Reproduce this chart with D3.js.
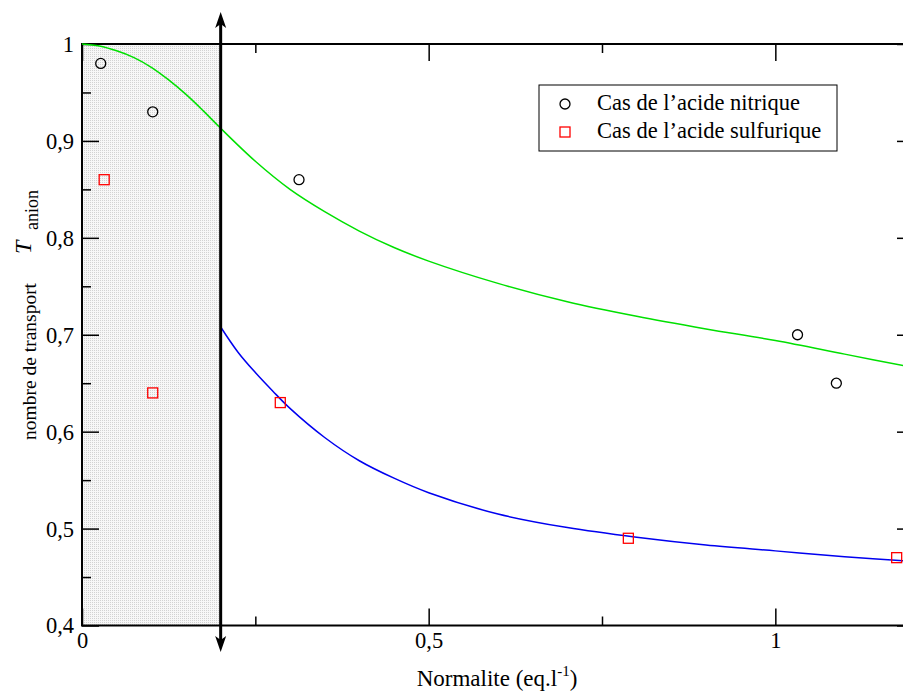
<!DOCTYPE html>
<html>
<head>
<meta charset="utf-8">
<script src="https://cdn.jsdelivr.net/npm/d3@7/dist/d3.min.js"></script>
<style>
  html, body { margin: 0; padding: 0; background: #fff; }
  svg { display: block; }
  svg text { font-family: "Liberation Serif", "Times New Roman", serif; fill: #000; }
</style>
</head>
<body>
<svg id="chart" width="903" height="691"></svg>
<script>
// ---- data ----
const nitricX = [0.027, 0.102, 0.313, 1.032, 1.088];
const nitricY = [0.98, 0.93, 0.86, 0.70, 0.65];
const sulfX = [0.032, 0.102, 0.286, 0.788, 1.175];
const sulfY = [0.86, 0.64, 0.63, 0.49, 0.47];

const greenX = [0, 0.025, 0.05, 0.075, 0.1, 0.125, 0.15, 0.175, 0.2, 0.25, 0.3, 0.35, 0.4, 0.45, 0.5, 0.6, 0.7, 0.8, 0.9, 1.0, 1.1, 1.2];
const greenY = [1.0, 0.998, 0.993, 0.986, 0.976, 0.963, 0.948, 0.931, 0.913, 0.879, 0.850, 0.827, 0.807, 0.790, 0.776, 0.753, 0.734, 0.719, 0.706, 0.694, 0.680, 0.666];
const blueX = [0.2, 0.225, 0.25, 0.275, 0.3, 0.35, 0.4, 0.45, 0.5, 0.6, 0.7, 0.8, 0.9, 1.0, 1.1, 1.2];
const blueY = [0.708, 0.682, 0.661, 0.642, 0.624, 0.594, 0.570, 0.552, 0.537, 0.515, 0.501, 0.491, 0.483, 0.477, 0.471, 0.466];

const shadeLimit = 0.2;

const xMajor = [0, 0.5, 1];
const xMajorLabels = ["0", "0,5", "1"];
const xMinor = [0.25, 0.75];
const yMajor = [0.4, 0.5, 0.6, 0.7, 0.8, 0.9, 1];
const yMajorLabels = ["0,4", "0,5", "0,6", "0,7", "0,8", "0,9", "1"];
const yMinor = [0.45, 0.55, 0.65, 0.75, 0.85, 0.95];

const legendLabels = ["Cas de l\u2019acide nitrique", "Cas de l\u2019acide sulfurique"];

// ---- layout ----
const svg = d3.select("#chart");
const L = 82, T = 44, R = 914, B = 625.5;
const x = d3.scaleLinear().domain([0, 1.2]).range([L, R]);
const y = d3.scaleLinear().domain([0.4, 1]).range([B, T]);

// pattern for shaded region
const defs = svg.append("defs");
const pat = defs.append("pattern").attr("id", "dots").attr("width", 2).attr("height", 2)
  .attr("patternUnits", "userSpaceOnUse");
pat.append("rect").attr("width", 2).attr("height", 2).attr("fill", "#f7f7f7");
pat.append("rect").attr("width", 1).attr("height", 1).attr("fill", "#d2d2d2");

svg.append("rect")
  .attr("x", x(0)).attr("y", y(1))
  .attr("width", x(shadeLimit) - x(0)).attr("height", y(0.4) - y(1))
  .attr("fill", "url(#dots)");

// axes (ticks inward)
const fmtX = d => xMajorLabels[xMajor.indexOf(d)];
const fmtY = d => yMajorLabels[yMajor.indexOf(d)];

function styleAxis(g) {
  g.attr("font-family", null).attr("font-size", null);
  g.select(".domain").remove();
  g.selectAll(".tick line").attr("stroke", "#000").attr("stroke-width", 1.5);
  g.selectAll("text").style("font-family", "'Liberation Serif', serif").style("font-size", "22.5px").attr("fill", "#000");
}

svg.append("g").attr("transform", `translate(${L},0)`)
  .call(d3.axisLeft(y).tickValues(yMajor).tickSize(-17).tickPadding(8).tickFormat(fmtY))
  .call(styleAxis)
  .call(g => g.selectAll("text").attr("dy", "0.33em"));
svg.append("g").attr("transform", `translate(${L},0)`)
  .call(d3.axisLeft(y).tickValues(yMinor).tickSize(-9).tickFormat(""))
  .call(styleAxis);
svg.append("g").attr("transform", `translate(${R},0)`)
  .call(d3.axisRight(y).tickValues(yMajor).tickSize(-17).tickFormat(""))
  .call(styleAxis);
svg.append("g").attr("transform", `translate(${R},0)`)
  .call(d3.axisRight(y).tickValues(yMinor).tickSize(-9).tickFormat(""))
  .call(styleAxis);

svg.append("g").attr("transform", `translate(0,${B})`)
  .call(d3.axisBottom(x).tickValues(xMajor).tickSize(-17).tickPadding(7).tickFormat(fmtX))
  .call(styleAxis)
  .call(g => g.selectAll("text").attr("dy", "0.71em"));
svg.append("g").attr("transform", `translate(0,${B})`)
  .call(d3.axisBottom(x).tickValues(xMinor).tickSize(-9).tickFormat(""))
  .call(styleAxis);
svg.append("g").attr("transform", `translate(0,${T})`)
  .call(d3.axisTop(x).tickValues(xMajor).tickSize(-17).tickFormat(""))
  .call(styleAxis);
svg.append("g").attr("transform", `translate(0,${T})`)
  .call(d3.axisTop(x).tickValues(xMinor).tickSize(-9).tickFormat(""))
  .call(styleAxis);

// frame
svg.append("rect").attr("x", L).attr("y", T).attr("width", R - L).attr("height", B - T)
  .attr("fill", "none").attr("stroke", "#000").attr("stroke-width", 2);

// curves
const line = d3.line().x(d => x(d[0])).y(d => y(d[1])).curve(d3.curveCatmullRom.alpha(0.5));
svg.append("path").datum(greenX.map((v, i) => [v, greenY[i]]))
  .attr("d", line).attr("fill", "none").attr("stroke", "#00e000").attr("stroke-width", 1.5);
svg.append("path").datum(blueX.map((v, i) => [v, blueY[i]]))
  .attr("d", line).attr("fill", "none").attr("stroke", "#0000f0").attr("stroke-width", 1.5);

// markers
svg.append("g").selectAll("circle").data(nitricX.map((v, i) => [v, nitricY[i]])).join("circle")
  .attr("cx", d => x(d[0])).attr("cy", d => y(d[1])).attr("r", 5)
  .attr("fill", "none").attr("stroke", "#000").attr("stroke-width", 1.3);
svg.append("g").selectAll("rect").data(sulfX.map((v, i) => [v, sulfY[i]])).join("rect")
  .attr("x", d => x(d[0]) - 5).attr("y", d => y(d[1]) - 5).attr("width", 10).attr("height", 10)
  .attr("fill", "none").attr("stroke", "#ff0000").attr("stroke-width", 1.3);

// double arrow at shade limit
const ax = x(shadeLimit);
const yTop = 12, yBot = 652, head = 16, hw = 5.5;
svg.append("line").attr("x1", ax).attr("x2", ax).attr("y1", yTop + 8).attr("y2", yBot - 8)
  .attr("stroke", "#000").attr("stroke-width", 3);
svg.append("path").attr("d", `M${ax},${yTop} L${ax + hw},${yTop + head} L${ax},${yTop + head - 4} L${ax - hw},${yTop + head} Z`)
  .attr("fill", "#000");
svg.append("path").attr("d", `M${ax},${yBot} L${ax + hw},${yBot - head} L${ax},${yBot - head + 4} L${ax - hw},${yBot - head} Z`)
  .attr("fill", "#000");

// legend
const lg = svg.append("g");
lg.append("rect").attr("x", 539).attr("y", 85).attr("width", 298).attr("height", 66)
  .attr("fill", "#fff").attr("stroke", "#000").attr("stroke-width", 1);
lg.append("circle").attr("cx", 565).attr("cy", 104).attr("r", 5)
  .attr("fill", "none").attr("stroke", "#000").attr("stroke-width", 1.3);
lg.append("rect").attr("x", 560).attr("y", 127).attr("width", 10).attr("height", 10)
  .attr("fill", "none").attr("stroke", "#ff0000").attr("stroke-width", 1.3);
lg.append("text").attr("x", 597).attr("y", 110).style("font-size", "22.5px").text(legendLabels[0]);
lg.append("text").attr("x", 597).attr("y", 138).style("font-size", "22.5px").text(legendLabels[1]);

// axis titles
const xt = svg.append("text").attr("x", 497).attr("y", 686).attr("text-anchor", "middle").style("font-size", "23px");
xt.append("tspan").text("Normalite (eq.l");
xt.append("tspan").attr("dy", -10).style("font-size", "15px").text("-1");
xt.append("tspan").attr("dy", 10).text(")");

svg.append("text").attr("transform", "translate(36,440) rotate(-90)")
  .style("font-size", "19.5px").text("nombre de transport");
svg.append("text").attr("transform", "translate(31,254) rotate(-90)")
  .style("font-size", "24px").style("font-style", "italic").text("T");
svg.append("text").attr("transform", "translate(38,230) rotate(-90)")
  .style("font-size", "18px").text("anion");
</script>
</body>
</html>
